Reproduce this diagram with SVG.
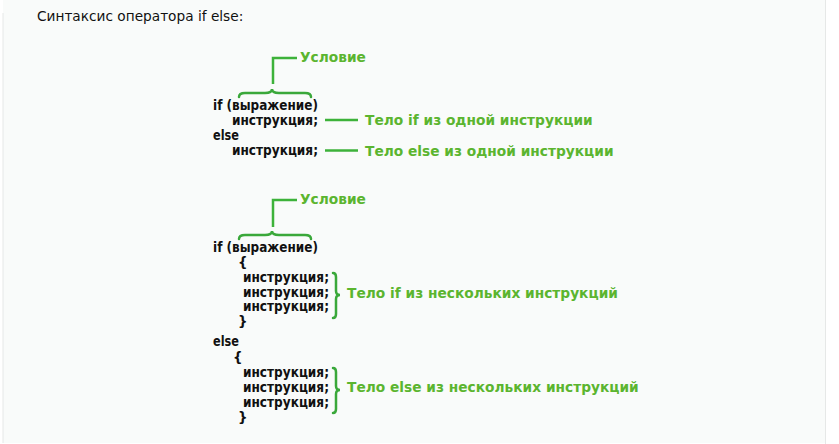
<svg xmlns="http://www.w3.org/2000/svg" width="839" height="444" viewBox="0 0 839 444">
<style>
.code{font-family:"DejaVu Sans","Liberation Sans",sans-serif;font-size:13.4px;font-weight:bold;fill:#111}
.lbl{font-family:"DejaVu Sans","Liberation Sans",sans-serif;font-size:13.75px;font-weight:bold;fill:#5bb52f}
.hdr{font-family:"DejaVu Sans","Liberation Sans",sans-serif;font-size:13.7px;fill:#111}
.ln{fill:none;stroke:#3db23a;stroke-width:2.5}
.br{fill:none;stroke:#3aa83a;stroke-width:2.5;stroke-linecap:round}
</style>
<rect x="0" y="0" width="839" height="444" fill="#ffffff"/>
<rect x="3" y="0" width="822" height="443" fill="#f9fbfa"/>
<line x1="3" y1="13" x2="3" y2="443" stroke="#e6e8e7" stroke-width="1"/>
<line x1="825.5" y1="0" x2="825.5" y2="444" stroke="#e6e8e7" stroke-width="1"/>
<text id="header" class="hdr" x="37" y="21">Синтаксис оператора if else:</text>

<g id="block1">
<text class="code" x="213" y="110" textLength="105" lengthAdjust="spacingAndGlyphs">if (выражение)</text>
<text class="code" x="232" y="125" textLength="86" lengthAdjust="spacingAndGlyphs">инструкция;</text>
<text class="code" x="213" y="140" textLength="26" lengthAdjust="spacingAndGlyphs">else</text>
<text class="code" x="232" y="155" textLength="86" lengthAdjust="spacingAndGlyphs">инструкция;</text>
</g>
<g id="cond1"><text class="lbl" x="300" y="62">Условие</text></g>
<g id="body1if"><text class="lbl" x="365" y="125">Тело if из одной инструкции</text></g>
<g id="body1else"><text class="lbl" x="365" y="156">Тело else из одной инструкции</text></g>

<g id="block2">
<text class="code" x="213" y="252" textLength="105" lengthAdjust="spacingAndGlyphs">if (выражение)</text>
<text class="code" x="238" y="267">{</text>
<text class="code" x="243" y="282" textLength="86" lengthAdjust="spacingAndGlyphs">инструкция;</text>
<text class="code" x="243" y="297" textLength="86" lengthAdjust="spacingAndGlyphs">инструкция;</text>
<text class="code" x="243" y="311" textLength="86" lengthAdjust="spacingAndGlyphs">инструкция;</text>
<text class="code" x="238" y="326">}</text>
<text class="code" x="213" y="346" textLength="26" lengthAdjust="spacingAndGlyphs">else</text>
<text class="code" x="233" y="362">{</text>
<text class="code" x="243" y="377" textLength="86" lengthAdjust="spacingAndGlyphs">инструкция;</text>
<text class="code" x="243" y="392" textLength="86" lengthAdjust="spacingAndGlyphs">инструкция;</text>
<text class="code" x="243" y="407" textLength="86" lengthAdjust="spacingAndGlyphs">инструкция;</text>
<text class="code" x="238" y="422">}</text>
</g>
<g id="cond2"><text class="lbl" x="300" y="204">Условие</text></g>
<g id="body2if"><text class="lbl" x="347" y="298">Тело if из нескольких инструкций</text></g>
<g id="body2else"><text class="lbl" x="347" y="392">Тело else из нескольких инструкций</text></g>

<g id="connectors">
<path class="ln" d="M273,84 V58 H297"/>
<path class="br" d="M239,97 Q239,93 245,93 L265,93 Q272,93 272,89 Q272,93 279,93 L305,93 Q311,93 311,97"/>
<line class="ln" x1="325" y1="120" x2="358" y2="120"/>
<line class="ln" x1="325" y1="150.5" x2="358" y2="150.5"/>
<path class="ln" d="M273,227 V200 H297"/>
<path class="br" d="M239,239 Q239,235 245,235 L265,235 Q272,235 272,231 Q272,235 279,235 L305,235 Q311,235 311,239"/>
<path class="br" d="M333,273 Q336,273 336,277 L336,291 Q336,295 340,295 Q336,295 336,299 L336,314 Q336,318 333,318"/>
<path class="br" d="M333,368 Q336,368 336,372 L336,386 Q336,390 340,390 Q336,390 336,394 L336,409 Q336,413 333,413"/>
</g>
</svg>
